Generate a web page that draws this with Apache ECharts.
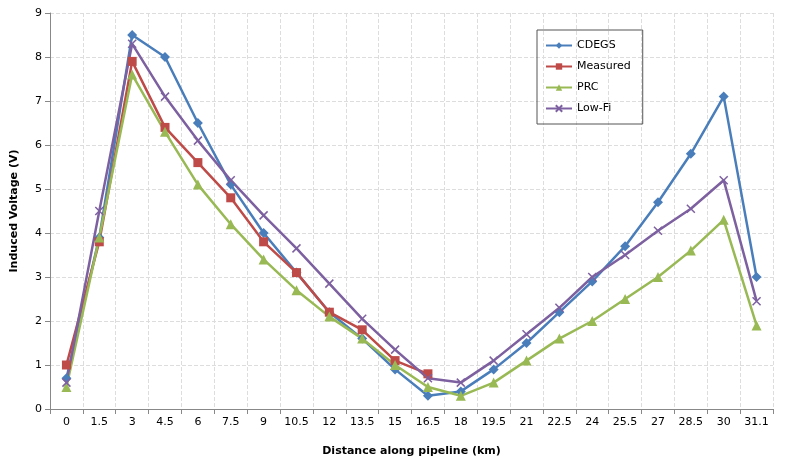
<!DOCTYPE html>
<html><head><meta charset="utf-8">
<script src="https://cdn.jsdelivr.net/npm/echarts@6/dist/echarts.min.js"></script>
<style>html,body{margin:0;background:#fff}#main{width:785px;height:466px}</style>
</head><body><div id="main"></div>
<script>
const distances = ['0','1.5','3','4.5','6','7.5','9','10.5','12','13.5','15','16.5','18','19.5','21','22.5','24','25.5','27','28.5','30','31.1'];
const cdegs = [0.7,3.9,8.5,8.0,6.5,5.1,4.0,3.1,2.2,1.6,0.9,0.3,0.4,0.9,1.5,2.2,2.9,3.7,4.7,5.8,7.1,3.0];
const measured = [1.0,3.8,7.9,6.4,5.6,4.8,3.8,3.1,2.2,1.8,1.1,0.8,null,null,null,null,null,null,null,null,null,null];
const prc = [0.5,3.9,7.6,6.3,5.1,4.2,3.4,2.7,2.1,1.6,1.0,0.5,0.3,0.6,1.1,1.6,2.0,2.5,3.0,3.6,4.3,1.9];
const lowFi = [0.6,4.5,8.3,7.1,6.1,5.2,4.4,3.65,2.85,2.05,1.35,0.7,0.6,1.1,1.7,2.3,3.0,3.5,4.05,4.55,5.2,2.45];

let myChart = echarts.init(document.getElementById('main'));
const font = 'Verdana, DejaVu Sans, sans-serif';
function line(name, data, color, symbol, size) {
    return {
        name: name, type: 'line', data: data, symbol: symbol, symbolSize: size,
        lineStyle: {color: color, width: 2.5}, itemStyle: {color: color},
        animation: false
    };
}
let option = {
    backgroundColor: '#fff',
    textStyle: {fontFamily: font},
    grid: {left: 50, right: 12, top: 13, bottom: 57},
    legend: {
        orient: 'vertical', left: 537, top: 30, width: 88,
        padding: [10, 12, 10, 8], itemGap: 10, itemWidth: 26, itemHeight: 8,
        borderColor: '#555', borderWidth: 1,
        textStyle: {fontSize: 11, color: '#000'},
        data: ['CDEGS', 'Measured', 'PRC', 'Low-Fi']
    },
    xAxis: {
        type: 'category', data: distances, boundaryGap: true,
        name: 'Distance along pipeline (km)', nameLocation: 'middle', nameGap: 37,
        nameTextStyle: {fontSize: 11, fontWeight: 'bold', color: '#000'},
        axisLine: {lineStyle: {color: '#888'}},
        axisTick: {show: true, alignWithLabel: false, lineStyle: {color: '#888'}},
        axisLabel: {fontSize: 11, color: '#000', interval: 0},
        splitLine: {show: true, interval: 0, lineStyle: {color: '#ddd', type: 'dashed'}}
    },
    yAxis: {
        type: 'value', min: 0, max: 9, interval: 1,
        name: 'Induced Voltage (V)', nameLocation: 'middle', nameGap: 30,
        nameTextStyle: {fontSize: 11, fontWeight: 'bold', color: '#000'},
        axisLine: {show: true, lineStyle: {color: '#888'}},
        axisTick: {show: true, lineStyle: {color: '#888'}},
        axisLabel: {fontSize: 11, color: '#000'},
        splitLine: {lineStyle: {color: '#ddd', type: 'dashed'}}
    },
    series: [
        line('CDEGS', cdegs, '#4a7ebb', 'diamond', 10),
        line('Measured', measured, '#be4b48', 'rect', 9),
        line('PRC', prc, '#98b954', 'triangle', 10),
        line('Low-Fi', lowFi, '#7d60a0', 'path://M0,0L10,10M10,0L0,10', 8)
    ]
};
option.series[3].itemStyle = {color: '#7d60a0', borderColor: '#7d60a0', borderWidth: 1.5};
myChart.setOption(option);
</script></body></html>
